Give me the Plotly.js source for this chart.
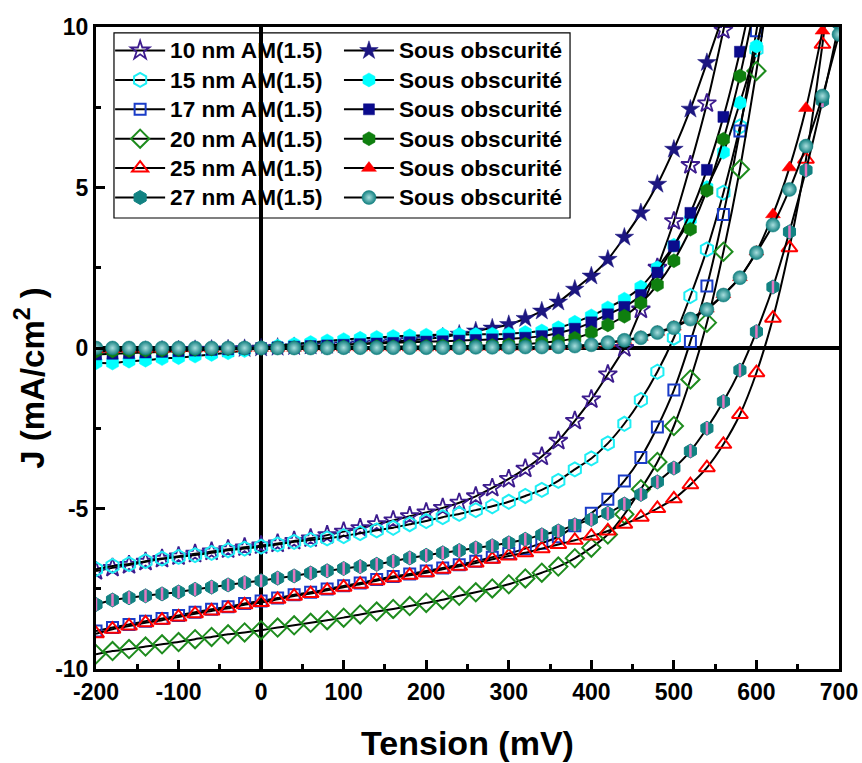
<!DOCTYPE html>
<html>
<head>
<meta charset="utf-8">
<script src="https://cdn.plot.ly/plotly-3.0.1.min.js"></script>
<style>html,body{margin:0;padding:0;background:#fff;}#chart{width:862px;height:763px;}</style>
</head>
<body>
<div id="chart"></div>
<script>
// Voltage (mV), one marker every 20 mV
const tension = [-200,-180,-160,-140,-120,-100,-80,-60,-40,-20,0,20,40,60,80,100,120,140,160,180,200,220,240,260,280,300,320,340,360,380,400,420,440,460,480,500,520,540,560,580,600,620,640,660,680,700];

// Illuminated AM(1.5) curves, J (mA/cm2)
const am10 = [-6.95,-6.85,-6.76,-6.66,-6.57,-6.49,-6.41,-6.34,-6.27,-6.21,-6.15,-6.09,-6.01,-5.93,-5.83,-5.72,-5.61,-5.49,-5.37,-5.24,-5.12,-4.98,-4.82,-4.62,-4.36,-4.08,-3.76,-3.38,-2.89,-2.27,-1.60,-0.82,0.00,1.20,2.50,3.95,5.70,7.62,9.90,12.4];
const am15 = [-6.89,-6.79,-6.73,-6.64,-6.56,-6.51,-6.45,-6.38,-6.30,-6.25,-6.19,-6.12,-6.04,-5.98,-5.93,-5.86,-5.77,-5.68,-5.60,-5.49,-5.39,-5.27,-5.17,-5.05,-4.93,-4.79,-4.61,-4.42,-4.14,-3.78,-3.44,-2.97,-2.36,-1.62,-0.74,0.32,1.62,3.07,4.84,6.90,9.30,12.0];
const am17 = [-8.82,-8.71,-8.61,-8.51,-8.43,-8.33,-8.23,-8.14,-8.06,-7.96,-7.88,-7.79,-7.69,-7.61,-7.51,-7.41,-7.32,-7.21,-7.12,-7.04,-6.95,-6.85,-6.75,-6.64,-6.52,-6.40,-6.25,-6.08,-5.88,-5.54,-5.15,-4.71,-4.14,-3.41,-2.46,-1.31,0.20,1.93,4.16,6.76,9.88,13.0];
const am20 = [-9.54,-9.44,-9.38,-9.30,-9.23,-9.16,-9.07,-9.00,-8.92,-8.86,-8.79,-8.71,-8.64,-8.56,-8.48,-8.40,-8.30,-8.21,-8.13,-8.04,-7.94,-7.84,-7.72,-7.61,-7.49,-7.36,-7.18,-7.00,-6.81,-6.55,-6.22,-5.81,-5.18,-4.40,-3.55,-2.43,-0.98,0.79,3.00,5.57,8.63,12.0];
const am25 = [-8.90,-8.76,-8.66,-8.56,-8.48,-8.38,-8.28,-8.19,-8.11,-8.00,-7.93,-7.83,-7.73,-7.65,-7.55,-7.45,-7.36,-7.25,-7.16,-7.08,-7.00,-6.89,-6.80,-6.70,-6.58,-6.48,-6.38,-6.25,-6.12,-5.99,-5.86,-5.70,-5.49,-5.27,-5.00,-4.70,-4.26,-3.73,-3.00,-2.07,-0.77,0.93,3.12,5.88,9.46,13.5];
const am27 = [-7.99,-7.85,-7.78,-7.72,-7.66,-7.60,-7.52,-7.45,-7.38,-7.31,-7.25,-7.17,-7.10,-7.01,-6.94,-6.87,-6.81,-6.74,-6.64,-6.54,-6.46,-6.38,-6.31,-6.23,-6.16,-6.07,-5.96,-5.82,-5.70,-5.51,-5.34,-5.15,-4.86,-4.56,-4.17,-3.74,-3.21,-2.50,-1.67,-0.69,0.51,1.90,3.62,5.54,7.70,10.1];

// Dark ("Sous obscurité") curves, J (mA/cm2)
const dark10 = [-0.12,-0.10,-0.09,-0.08,-0.07,-0.06,-0.05,-0.04,-0.03,-0.02,0.00,0.02,0.04,0.06,0.08,0.10,0.13,0.16,0.20,0.24,0.28,0.34,0.43,0.53,0.62,0.73,0.92,1.15,1.43,1.83,2.24,2.76,3.45,4.21,5.10,6.19,7.44,8.89,10.4];
const dark15 = [-0.46,-0.47,-0.41,-0.38,-0.33,-0.30,-0.25,-0.20,-0.15,-0.08,0.00,0.06,0.12,0.17,0.22,0.26,0.30,0.33,0.36,0.38,0.40,0.41,0.42,0.42,0.43,0.44,0.48,0.53,0.63,0.80,1.00,1.25,1.52,1.90,2.50,3.20,4.00,5.00,6.10,7.64,9.40,11.6];
const dark17 = [-0.20,-0.18,-0.16,-0.14,-0.12,-0.10,-0.08,-0.06,-0.04,-0.02,0.00,0.02,0.04,0.06,0.08,0.10,0.12,0.14,0.16,0.18,0.20,0.21,0.23,0.25,0.27,0.29,0.32,0.37,0.47,0.60,0.80,1.05,1.28,1.65,2.35,3.17,4.21,5.55,7.20,9.23,11.6];
const dark20 = [-0.10,-0.09,-0.08,-0.07,-0.06,-0.05,-0.04,-0.03,-0.02,-0.01,0.00,0.01,0.01,0.02,0.02,0.03,0.03,0.04,0.04,0.05,0.05,0.06,0.06,0.07,0.08,0.10,0.12,0.16,0.22,0.30,0.48,0.72,0.99,1.40,1.97,2.72,3.70,4.91,6.50,8.47,10.9];
const dark25 = [-0.04,-0.04,-0.03,-0.03,-0.03,-0.02,-0.02,-0.02,-0.01,-0.01,0.00,0.00,0.00,0.01,0.01,0.01,0.01,0.01,0.01,0.01,0.01,0.01,0.02,0.02,0.02,0.02,0.03,0.04,0.05,0.07,0.10,0.15,0.24,0.34,0.50,0.66,0.92,1.22,1.67,2.20,3.00,4.16,5.62,7.47,9.88,12.6];
const dark27 = [0.00,0.00,0.00,0.00,0.00,0.00,0.00,0.00,0.00,0.00,0.00,0.00,0.00,0.00,0.00,0.01,0.01,0.01,0.01,0.01,0.01,0.01,0.01,0.02,0.02,0.02,0.03,0.03,0.04,0.06,0.10,0.17,0.24,0.32,0.48,0.63,0.90,1.20,1.65,2.19,2.97,3.83,4.94,6.29,7.85,9.77];

const lightLabels = ['10 nm AM(1.5)','15 nm AM(1.5)','17 nm AM(1.5)','20 nm AM(1.5)','25 nm AM(1.5)','27 nm AM(1.5)'];
const darkLabel = 'Sous obscurité';

// Tick labels (hyphen minus, as in the original)
const xTickVals = [-200,-100,0,100,200,300,400,500,600,700];
const xTickText = ['-200','-100','0','100','200','300','400','500','600','700'];
const yTickVals = [-10,-5,0,5,10];
const yTickText = ['-10','-5','0','5','10'];

const FONT = 'Arial, "Liberation Sans", Helvetica, sans-serif';
const big = s => '<span style="font-size:22.6px">' + s + '</span>';

function curve(y, name, legend, marker, showlegend) {
  return {
    x: tension, y: y, name: big(name), legend: legend,
    type: 'scatter', mode: 'lines+markers',
    line: {color: '#000', width: 2, shape: 'spline', smoothing: 0.6},
    marker: marker, showlegend: showlegend !== false, cliponaxis: true
  };
}

const traces = [
  curve(am10, lightLabels[0], 'legend', {symbol: 'star-open', size: 14, color: '#3D1C8E', line: {width: 1.8, color: '#3D1C8E'}}),
  curve(am15, lightLabels[1], 'legend', {symbol: 'hexagon-open', size: 14, color: '#1EEEF4', line: {width: 2, color: '#1EEEF4'}}),
  curve(am17, lightLabels[2], 'legend', {symbol: 'square-open', size: 11, color: '#1A3CC8', line: {width: 2, color: '#1A3CC8'}}),
  curve(am20, lightLabels[3], 'legend', {symbol: 'diamond-open', size: 14, color: '#1E8C1E', line: {width: 2, color: '#1E8C1E'}}),
  curve(am25, lightLabels[4], 'legend', {symbol: 'triangle-up-open', size: 14, color: '#FF0000', line: {width: 2, color: '#FF0000'}}),
  curve(am27, lightLabels[5], 'legend', {symbol: 'hexagon', size: 14, color: '#128282', line: {width: 1, color: '#128282'}}),
  // white stripe that gives the half-filled look of the 27 nm markers
  {x: tension, y: am27, type: 'scatter', mode: 'markers', showlegend: false, hoverinfo: 'skip',
   marker: {symbol: 'line-ns-open', size: 9, line: {width: 2.5, color: '#ffffff'}}},
  curve(dark10, darkLabel, 'legend2', {symbol: 'star', size: 14, color: '#1C1680', line: {width: 0.5, color: '#1C1680'}}),
  curve(dark15, darkLabel, 'legend2', {symbol: 'hexagon', size: 14, color: '#00FFFF', line: {width: 0.5, color: '#00FFFF'}}),
  curve(dark17, darkLabel, 'legend2', {symbol: 'square', size: 11, color: '#0B0B8C', line: {width: 0.5, color: '#0B0B8C'}}),
  curve(dark20, darkLabel, 'legend2', {symbol: 'hexagon', size: 14, color: '#0F7F0F', line: {width: 0.5, color: '#0F7F0F'}}),
  curve(dark25, darkLabel, 'legend2', {symbol: 'triangle-up', size: 13, color: '#FF0000', line: {width: 0.5, color: '#FF0000'}}),
  curve(dark27, darkLabel, 'legend2', {symbol: 'circle', size: 14, color: '#138080', gradient: {type: 'radial', color: '#a8dede'}, line: {width: 0.5, color: '#138080'}})
];

const axisCommon = {
  showline: true, linecolor: '#000', linewidth: 3, mirror: true,
  showgrid: false, zeroline: true, zerolinecolor: '#000', zerolinewidth: 4,
  ticks: 'inside', tickcolor: '#000', tickwidth: 3, ticklen: 9,
  tickfont: {family: FONT, size: 23, color: '#000', weight: 'bold'},
  automargin: false
};

const layout = {
  width: 862, height: 763,
  margin: {l: 96, r: 23, t: 27, b: 94},
  paper_bgcolor: '#fff', plot_bgcolor: '#fff',
  font: {family: FONT, color: '#000'},
  xaxis: Object.assign({}, axisCommon, {
    range: [-200, 700], tickmode: 'array', tickvals: xTickVals, ticktext: xTickText,
    minor: {dtick: 50, tick0: -200, ticks: 'inside', ticklen: 5, tickwidth: 3, tickcolor: '#000'},
    title: {text: 'Tension (mV)', font: {family: FONT, size: 34, weight: 'bold', color: '#000'}, standoff: 28}
  }),
  yaxis: Object.assign({}, axisCommon, {
    range: [-10, 10], tickmode: 'array', tickvals: yTickVals, ticktext: yTickText,
    minor: {dtick: 2.5, tick0: -10, ticks: 'inside', ticklen: 5, tickwidth: 3, tickcolor: '#000'}
  }),
  annotations: [{
    text: 'J (mA/cm<sup>2</sup> )', xref: 'paper', yref: 'paper',
    x: -0.088, y: 0.453, xanchor: 'center', yanchor: 'middle', textangle: -90,
    showarrow: false, font: {family: FONT, size: 33, weight: 'bold', color: '#000'}
  }],
  legend: {
    x: 0.019, xanchor: 'left', y: 0.994, yanchor: 'top',
    bgcolor: 'rgba(0,0,0,0)', borderwidth: 0, itemwidth: 50,
    font: {family: FONT, size: 20.3, weight: 'bold', color: '#000'},
    tracegroupgap: 0
  },
  legend2: {
    x: 0.327, xanchor: 'left', y: 0.994, yanchor: 'top',
    bgcolor: 'rgba(0,0,0,0)', borderwidth: 0, itemwidth: 50,
    font: {family: FONT, size: 20.3, weight: 'bold', color: '#000'},
    tracegroupgap: 0
  },
  shapes: [{
    type: 'rect', xref: 'paper', yref: 'paper',
    x0: 0.0242, x1: 0.638, y0: 0.7025, y1: 0.9907,
    line: {color: '#000', width: 1.2}, fillcolor: 'rgba(0,0,0,0)', layer: 'above'
  }]
};

Plotly.newPlot('chart', traces, layout, {displayModeBar: false, staticPlot: true});
</script>
</body>
</html>
